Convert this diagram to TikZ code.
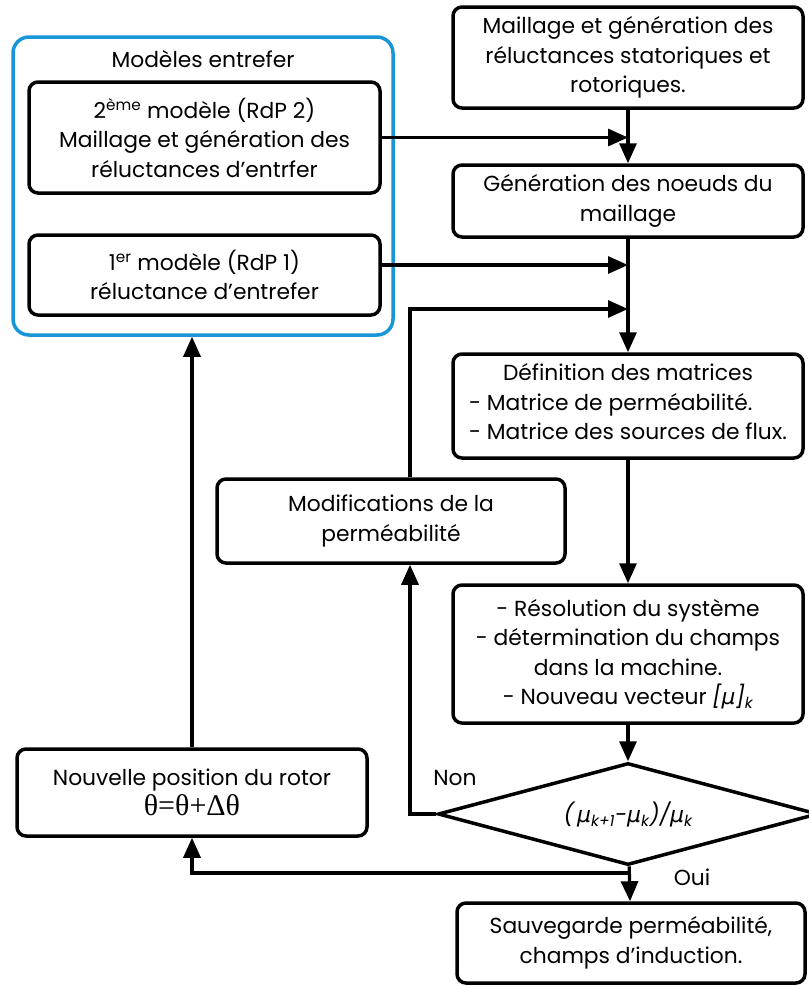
\documentclass[tikz,border=0pt]{standalone}
\usepackage{fontspec}
\setmainfont{Poppins}
\newfontfamily\grkfont{DejaVu Sans}
\newfontfamily\thetafont{Liberation Serif}
\usetikzlibrary{shapes.geometric,arrows.meta}
\definecolor{entrefblue}{RGB}{25,150,215}
\newcommand{\muk}{{\grkfont\itshape μ}}

\begin{document}
\begin{tikzpicture}[
		x=1pt, y=-1pt,
		>={Triangle[length=20pt,width=17pt]},
		box/.style={draw, line width=3.5pt, rounded corners=9pt, align=center, inner sep=0pt, font=\fontsize{21.8}{29.5}\selectfont},
		modelbox/.style={draw=entrefblue, line width=3.5pt, rounded corners=16pt},
		decision/.style={draw, diamond, aspect=3.7, line width=3.5pt, inner sep=0pt, font=\fontsize{22}{24}\selectfont},
		flow/.style={->, line width=3.2pt},
		lbl/.style={font=\fontsize{21.8}{24}\selectfont}
	]
	\useasboundingbox (0,0) rectangle (809,986);

	\node[modelbox, minimum width=380, minimum height=298] (entrefer) at (203,186) {};
	\node[lbl] (entreftitle) at (203,59) {Modèles entrefer};
	\node[box, minimum width=351, minimum height=111] (rdp2) at (204.5,137.5)
		{2\textsuperscript{ème} modèle (RdP 2)\\Maillage et génération des\\réluctances d’entrfer};
	\node[box, minimum width=351, minimum height=80] (rdp1) at (204.5,275)
		{1\textsuperscript{er} modèle (RdP 1)\\réluctance d’entrefer};

	\node[box, minimum width=350, minimum height=101] (maill) at (628,57.5)
		{Maillage et génération des\\réluctances statoriques et\\rotoriques.};
	\node[box, minimum width=350, minimum height=72] (gen) at (628,201)
		{Génération des noeuds du\\maillage};
	\node[box, minimum width=350, minimum height=104] (def) at (628,406)
		{Définition des matrices\\\begin{tabular}[t]{@{}l@{}}- Matrice de perméabilité.\\- Matrice des sources de flux.\end{tabular}};
	\node[box, minimum width=348, minimum height=84] (modif) at (391,521)
		{Modifications de la\\perméabilité};
	\node[box, minimum width=350, minimum height=138] (res) at (628,654)
		{- Résolution du système\\- détermination du champs\\dans la machine.\\- Nouveau vecteur {\itshape[}\muk{\itshape]}\textsubscript{\itshape k}};
	\node[decision, minimum width=380, minimum height=102] (dec) at (628,814)
		{{\itshape(\,}\muk\textsubscript{\itshape k+1}{\itshape -}\muk\textsubscript{\itshape k}{\itshape )/}\muk\textsubscript{\itshape k}};
	\node[box, minimum width=350, minimum height=87] (nouv) at (192,792.5)
		{Nouvelle position du rotor\\{\thetafont\fontsize{30}{33}\selectfont θ=θ+Δθ}};
	\node[box, minimum width=348, minimum height=80] (save) at (631,943)
		{Sauvegarde perméabilité,\\champs d’induction.};

	\node[lbl] (non) at (455,778) {Non};
	\node[lbl] (oui) at (692,877) {Oui};

	\coordinate (j1) at ([yshift=10pt]rdp1.east);
	\coordinate (j2) at (gen.south |- 0,309);
	\coordinate (j3) at (dec.south |- 0,873);

	\draw[flow] (rdp2.east) -- (rdp2.east -| maill.south);
	\draw[flow] (maill) -- (gen);
	\draw[flow] (j1) -- (j1 -| gen.south);
	\draw[flow] ([xshift=19pt]modif.north) |- (j2);
	\draw[flow] (gen) -- (def);
	\draw[flow] (def) -- (res);
	\draw[flow] (res) -- (dec);
	\draw[flow] (dec.west) -| ([xshift=19pt]modif.south);
	\draw[flow] (dec) -- (save);
	\draw[flow] (j3) -| (nouv.south);
	\draw[flow] (nouv.north) -- (nouv.north |- entrefer.south);
\end{tikzpicture}
\end{document}
